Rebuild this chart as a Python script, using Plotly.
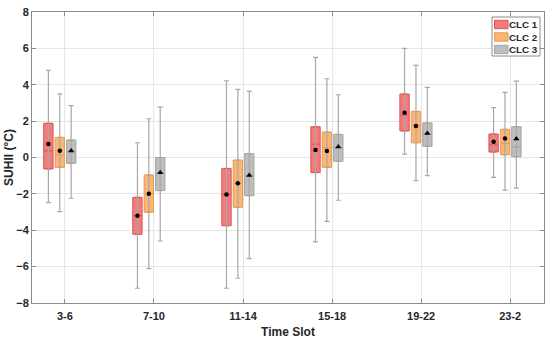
import plotly.graph_objects as go

categories = ["3-6", "7-10", "11-14", "15-18", "19-22", "23-2"]
series_names = ["CLC 1", "CLC 2", "CLC 3"]

clc1_lower = [-2.48, -7.19, -7.19, -4.64, 0.19, -1.09]
clc1_q1 = [-0.63, -4.22, -3.75, -0.83, 1.46, 0.30]
clc1_median = [0.36, -3.20, -2.05, 0.73, 2.33, 0.70]
clc1_q3 = [1.88, -2.19, -0.60, 1.69, 3.49, 1.29]
clc1_upper = [4.79, 0.81, 4.22, 5.50, 6.00, 2.74]
clc1_mean = [0.74, -3.20, -2.04, 0.41, 2.46, 0.87]

clc2_lower = [-2.98, -6.11, -6.64, -3.51, -1.27, -1.79]
clc2_q1 = [-0.54, -3.01, -2.74, -0.54, 0.81, 0.15]
clc2_median = [0.14, -2.00, -1.42, 0.54, 1.75, 0.78]
clc2_q3 = [1.11, -0.96, -0.14, 1.40, 2.54, 1.55]
clc2_upper = [3.50, 2.13, 3.75, 4.33, 5.06, 3.58]
clc2_mean = [0.37, -1.99, -1.42, 0.36, 1.73, 1.05]

clc3_lower = [-2.24, -4.59, -5.56, -2.35, -1.00, -1.68]
clc3_q1 = [-0.32, -1.82, -2.10, -0.21, 0.62, 0.04]
clc3_median = [0.35, -0.85, -1.00, 0.55, 1.30, 0.58]
clc3_q3 = [0.96, 0.00, 0.21, 1.27, 1.90, 1.69]
clc3_upper = [2.85, 2.77, 3.65, 3.45, 3.86, 4.20]
clc3_mean = [0.37, -0.83, -0.98, 0.59, 1.33, 1.03]

series = [
    dict(lower=clc1_lower, q1=clc1_q1, med=clc1_median, q3=clc1_q3, upper=clc1_upper, mean=clc1_mean),
    dict(lower=clc2_lower, q1=clc2_q1, med=clc2_median, q3=clc2_q3, upper=clc2_upper, mean=clc2_mean),
    dict(lower=clc3_lower, q1=clc3_q1, med=clc3_median, q3=clc3_q3, upper=clc3_upper, mean=clc3_mean),
]

fills = ["#F47B7B", "#FBB574", "#BEBEBE"]
edges = ["#D95555", "#E59A55", "#A2A2A2"]
mean_symbols = ["circle", "circle", "triangle-up"]
offsets = [-0.186, -0.058, 0.070]
box_w = 0.105
whisker_color = "#A8A8A8"

W, H = 550, 339
ML, MR, MT, MB = 32, 6, 12, 36
PW, PH = W - ML - MR, H - MT - MB

fig = go.Figure()

# whiskers (drawn beneath boxes)
for s, off in zip(series, offsets):
    xs = [i + off for i in range(len(categories))]
    fig.add_trace(go.Scatter(
        x=xs, y=s["med"], mode="markers", marker=dict(size=1, opacity=0),
        showlegend=False, hoverinfo="skip",
        error_y=dict(type="data", symmetric=False,
                     array=[u - m for u, m in zip(s["upper"], s["med"])],
                     arrayminus=[m - l for m, l in zip(s["med"], s["lower"])],
                     color=whisker_color, thickness=1.2, width=2.5),
    ))

# boxes
for k, (s, off) in enumerate(zip(series, offsets)):
    for i in range(len(categories)):
        fig.add_trace(go.Box(
            x=[i + off], q1=[s["q1"][i]], median=[s["med"][i]], q3=[s["q3"][i]],
            lowerfence=[s["q1"][i]], upperfence=[s["q3"][i]],
            width=box_w, fillcolor=fills[k], line=dict(color=edges[k], width=1),
            name=series_names[k], showlegend=False, hoverinfo="skip",
        ))

# means
for k, (s, off) in enumerate(zip(series, offsets)):
    xs = [i + off for i in range(len(categories))]
    fig.add_trace(go.Scatter(
        x=xs, y=s["mean"], mode="markers",
        marker=dict(symbol=mean_symbols[k], color="black",
                    size=4.5 if k < 2 else 5.5),
        showlegend=False, hoverinfo="skip",
    ))

fig.add_shape(type="line", xref="paper", x0=0, x1=1, yref="y", y0=0, y1=0,
              line=dict(color="#9A9A9A", width=1, dash="dash"), layer="below")

font_fam = "Liberation Sans, Arial, sans-serif"

# legend drawn as a bordered box (pixel layout converted to paper coords)
def px(x):
    return (x - ML) / PW

def py(y):
    return (MT + PH - y) / PH

fig.add_shape(type="rect", xref="paper", yref="paper",
              x0=px(492), x1=px(540), y0=py(56), y1=py(17),
              line=dict(color="#8C8C8C", width=1), fillcolor="white", layer="above")
for k, name in enumerate(series_names):
    yc = 24.5 + k * 12.5
    fig.add_shape(type="rect", xref="paper", yref="paper",
                  x0=px(494.5), x1=px(508), y0=py(yc + 4.2), y1=py(yc - 4.2),
                  line=dict(color=edges[k], width=1), fillcolor=fills[k], layer="above")
    fig.add_annotation(xref="paper", yref="paper", x=px(509), y=py(yc),
                       xanchor="left", yanchor="middle", text=name, showarrow=False,
                       borderpad=0, xshift=-1,
                       font=dict(size=9.8, family=font_fam, weight="bold", color="#262626"))

fig.update_layout(
    width=W, height=H,
    margin=dict(l=ML, r=MR, t=MT, b=MB),
    plot_bgcolor="white", paper_bgcolor="white",
    font=dict(family=font_fam, color="#262626"),
    boxmode="overlay", showlegend=False,
    xaxis=dict(
        range=[-0.37, 5.38], tickmode="array",
        tickvals=list(range(len(categories))), ticktext=categories,
        showgrid=True, gridcolor="#E6E6E6", gridwidth=1, zeroline=False,
        showline=True, linecolor="#8C8C8C", linewidth=1, mirror="ticks",
        ticks="inside", ticklen=4, tickcolor="#8C8C8C", ticklabelstandoff=3,
        tickfont=dict(size=11, weight="bold"), automargin=False,
        title=dict(text="Time Slot", font=dict(size=12, weight="bold"), standoff=6),
    ),
    yaxis=dict(
        range=[-8, 8], tickmode="array", tickvals=[-8, -6, -4, -2, 0, 2, 4, 6, 8],
        showgrid=True, gridcolor="#E6E6E6", gridwidth=1, zeroline=False,
        showline=True, linecolor="#8C8C8C", linewidth=1, mirror="ticks",
        ticks="inside", ticklen=4, tickcolor="#8C8C8C",
        tickfont=dict(size=11, weight="bold"), automargin=False,
        title=dict(text="SUHII (°C)", font=dict(size=12, weight="bold"), standoff=0),
    ),
)

fig.write_html("out.html", config={"displayModeBar": False},
               post_script="document.body.style.margin='0';document.body.style.overflow='hidden';")
